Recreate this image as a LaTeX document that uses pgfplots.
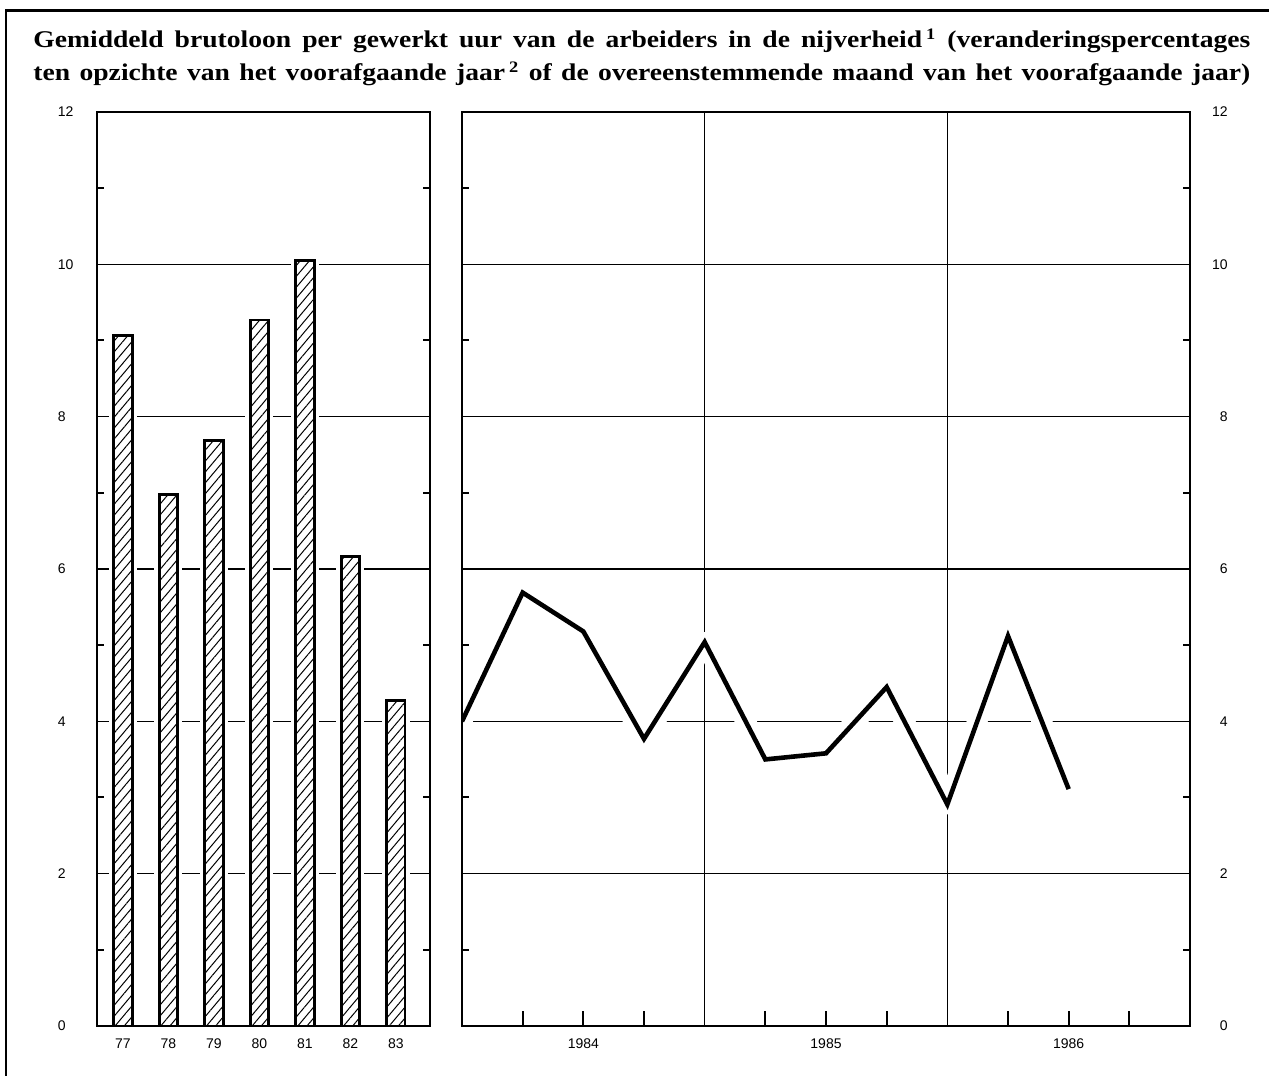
\documentclass[border=0pt]{standalone}
\usepackage{fontspec}
\setmainfont{Liberation Serif}
\newfontfamily\titlefont{Liberation Serif}[FakeStretch=1.15]
\newfontfamily\lsans{Liberation Sans}
\usepackage{pgfplots}
\pgfplotsset{compat=1.18}
\usetikzlibrary{patterns.meta}

\tikzset{gridline/.style={line width=0.8pt, black}}
\pgfplotsset{
  panel/.style={
    scale only axis,
    height=457pt,
    ymin=0, ymax=12,
    ytick={0,2,...,12},
    minor y tick num=1,
    major tick length=0pt,
    minor tick length=3.5pt,
    tick align=inside,
    axis on top,
    axis line style={line width=1pt},
    tick style={black, line width=1pt},
    tick label style={font=\lsans\fontsize{7}{8}\selectfont, inner sep=0pt},
    /pgf/number format/assume math mode=true,
    xtick pos=left,
    clip=true,
  },
}

\begin{document}
\begin{tikzpicture}
\useasboundingbox (0,0) rectangle (634.5pt,538pt);
\draw[line width=1.1pt] (3pt,-5pt) -- (3pt,532.75pt) -- (640pt,532.75pt);

\node[anchor=base west, inner sep=0pt] at (16.5pt,514pt) {\titlefont\fontsize{12}{14}\selectfont\bfseries\makebox[608.5pt][s]{Gemiddeld brutoloon per gewerkt uur van de arbeiders in de nijverheid\,\textsuperscript{1} (veranderingspercentages}};
\node[anchor=base west, inner sep=0pt] at (16.5pt,497.5pt) {\titlefont\fontsize{12}{14}\selectfont\bfseries\makebox[608.5pt][s]{ten opzichte van het voorafgaande jaar\,\textsuperscript{2} of de overeenstemmende maand van het voorafgaande jaar)}};

% Left panel: yearly bars
\begin{axis}[panel, at={(48.5pt,25pt)}, anchor=south west, width=166.5pt,
  xmin=76.43, xmax=83.75,
  xtick={77,78,79,80,81,82,83}, xticklabels={77,78,79,80,81,82,83},
  yticklabel pos=left, ytick pos=both,
  yticklabel style={anchor=west, xshift=-19.75pt},
  xticklabel style={yshift=-6.3pt}]
  \draw[gridline] (axis cs:76.43,2) -- (axis cs:83.75,2);
  \draw[gridline] (axis cs:76.43,4) -- (axis cs:83.75,4);
  \draw[gridline] (axis cs:76.43,6) -- (axis cs:83.75,6);
  \draw[gridline] (axis cs:76.43,8) -- (axis cs:83.75,8);
  \draw[gridline] (axis cs:76.43,10) -- (axis cs:83.75,10);
  \addplot[ybar, bar width=9.2pt, bar shift=0pt, draw=white, fill=white, line width=4.8pt, line join=miter]
    coordinates {(77,9.07) (78,6.98) (79,7.69) (80,9.27) (81,10.05) (82,6.16) (83,4.27)};
  \addplot[ybar, bar width=9.2pt, bar shift=0pt, draw=black, line width=1.4pt, line join=miter,
    pattern={Lines[angle=50,distance=3.5pt,line width=0.5pt]}]
    coordinates {(77,9.07) (78,6.98) (79,7.69) (80,9.27) (81,10.05) (82,6.16) (83,4.27)};
\end{axis}

% Right panel: monthly line
\begin{axis}[panel, at={(231pt,25pt)}, anchor=south west, width=364pt,
  xmin=1983.5, xmax=1986.5,
  xtick={1984,1985,1986}, xticklabels={1984,1985,1986},
  yticklabel pos=right, ytick pos=both,
  yticklabel style={anchor=east, xshift=19pt},
  xticklabel style={yshift=-6.3pt}]
  \draw[gridline] (axis cs:1983.5,2) -- (axis cs:1986.5,2);
  \draw[gridline] (axis cs:1983.5,4) -- (axis cs:1986.5,4);
  \draw[gridline] (axis cs:1983.5,6) -- (axis cs:1986.5,6);
  \draw[gridline] (axis cs:1983.5,8) -- (axis cs:1986.5,8);
  \draw[gridline] (axis cs:1983.5,10) -- (axis cs:1986.5,10);
  \draw[gridline] (axis cs:1984.5,0) -- (axis cs:1984.5,12);
  \draw[gridline] (axis cs:1985.5,0) -- (axis cs:1985.5,12);
  \draw[line width=1pt] (axis cs:1983.75,0) -- ++(0pt,7.5pt);
  \draw[line width=1pt] (axis cs:1984,0) -- ++(0pt,7.5pt);
  \draw[line width=1pt] (axis cs:1984.25,0) -- ++(0pt,7.5pt);
  \draw[line width=1pt] (axis cs:1984.75,0) -- ++(0pt,7.5pt);
  \draw[line width=1pt] (axis cs:1985,0) -- ++(0pt,7.5pt);
  \draw[line width=1pt] (axis cs:1985.25,0) -- ++(0pt,7.5pt);
  \draw[line width=1pt] (axis cs:1985.75,0) -- ++(0pt,7.5pt);
  \draw[line width=1pt] (axis cs:1986,0) -- ++(0pt,7.5pt);
  \draw[line width=1pt] (axis cs:1986.25,0) -- ++(0pt,7.5pt);
  \addplot[white, line width=10pt, line join=round]
    coordinates {(1983.5,4.00) (1983.75,5.69) (1984,5.18) (1984.25,3.77) (1984.5,5.04) (1984.75,3.50) (1985,3.58) (1985.25,4.45) (1985.5,2.91) (1985.75,5.12) (1986,3.11)};
  \addplot[black, line width=2.3pt, line join=miter]
    coordinates {(1983.5,4.00) (1983.75,5.69) (1984,5.18) (1984.25,3.77) (1984.5,5.04) (1984.75,3.50) (1985,3.58) (1985.25,4.45) (1985.5,2.91) (1985.75,5.12) (1986,3.11)};
\end{axis}
\end{tikzpicture}
\end{document}
